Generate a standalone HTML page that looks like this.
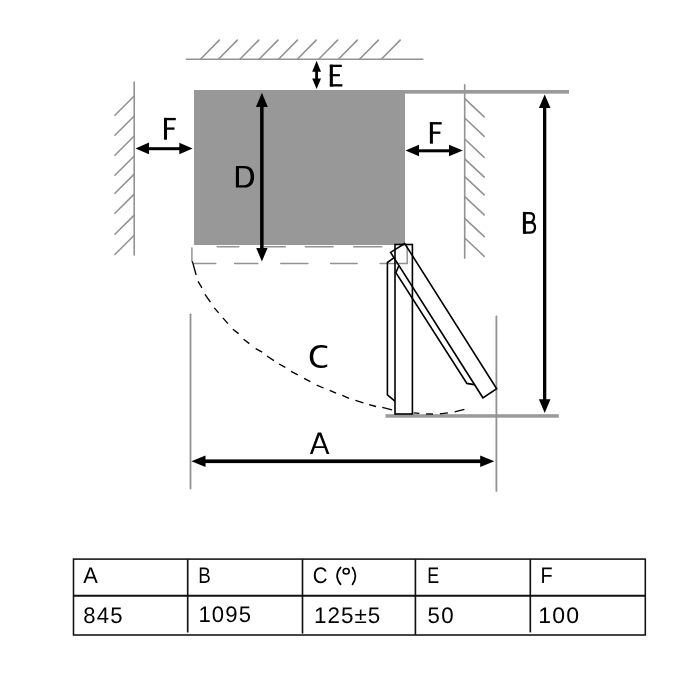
<!DOCTYPE html>
<html><head><meta charset="utf-8"><style>
html,body{margin:0;padding:0;background:#fff;}
body{width:700px;height:700px;overflow:hidden;position:relative;}
svg{position:absolute;left:0;top:0;will-change:transform;}
.t{font-family:"Liberation Sans",sans-serif;text-rendering:geometricPrecision;}
</style></head><body>
<svg width="700" height="700" viewBox="0 0 700 700">
<rect width="700" height="700" fill="#fff"/>
<line x1="186.5" y1="59.2" x2="422.8" y2="59.2" stroke="#929292" stroke-width="1.6" stroke-linecap="round"/>
<line x1="200.4" y1="59.2" x2="219.3" y2="40.1" stroke="#929292" stroke-width="1.6" stroke-linecap="round"/>
<line x1="218.4" y1="59.2" x2="237.3" y2="40.1" stroke="#929292" stroke-width="1.6" stroke-linecap="round"/>
<line x1="239.9" y1="59.2" x2="258.8" y2="40.1" stroke="#929292" stroke-width="1.6" stroke-linecap="round"/>
<line x1="259.1" y1="59.2" x2="278.0" y2="40.1" stroke="#929292" stroke-width="1.6" stroke-linecap="round"/>
<line x1="278.5" y1="59.2" x2="297.4" y2="40.1" stroke="#929292" stroke-width="1.6" stroke-linecap="round"/>
<line x1="297.3" y1="59.2" x2="316.2" y2="40.1" stroke="#929292" stroke-width="1.6" stroke-linecap="round"/>
<line x1="318.7" y1="59.2" x2="337.6" y2="40.1" stroke="#929292" stroke-width="1.6" stroke-linecap="round"/>
<line x1="338.4" y1="59.2" x2="357.3" y2="40.1" stroke="#929292" stroke-width="1.6" stroke-linecap="round"/>
<line x1="359.5" y1="59.2" x2="378.4" y2="40.1" stroke="#929292" stroke-width="1.6" stroke-linecap="round"/>
<line x1="381.3" y1="59.2" x2="400.2" y2="40.1" stroke="#929292" stroke-width="1.6" stroke-linecap="round"/>
<line x1="134.2" y1="82" x2="134.2" y2="255" stroke="#929292" stroke-width="1.6" stroke-linecap="round"/>
<line x1="134.2" y1="96.0" x2="114.9" y2="115.2" stroke="#929292" stroke-width="1.6" stroke-linecap="round"/>
<line x1="134.2" y1="116.0" x2="114.9" y2="135.2" stroke="#929292" stroke-width="1.6" stroke-linecap="round"/>
<line x1="134.2" y1="136.0" x2="114.9" y2="155.2" stroke="#929292" stroke-width="1.6" stroke-linecap="round"/>
<line x1="134.2" y1="156.0" x2="114.9" y2="175.2" stroke="#929292" stroke-width="1.6" stroke-linecap="round"/>
<line x1="134.2" y1="174.1" x2="114.9" y2="193.3" stroke="#929292" stroke-width="1.6" stroke-linecap="round"/>
<line x1="134.2" y1="194.1" x2="114.9" y2="213.3" stroke="#929292" stroke-width="1.6" stroke-linecap="round"/>
<line x1="134.2" y1="215.1" x2="114.9" y2="234.3" stroke="#929292" stroke-width="1.6" stroke-linecap="round"/>
<line x1="134.2" y1="235.3" x2="114.9" y2="254.5" stroke="#929292" stroke-width="1.6" stroke-linecap="round"/>
<line x1="464.7" y1="84.8" x2="464.7" y2="258.1" stroke="#929292" stroke-width="1.6" stroke-linecap="round"/>
<line x1="464.7" y1="98.6" x2="484.2" y2="116.9" stroke="#929292" stroke-width="1.6" stroke-linecap="round"/>
<line x1="464.7" y1="118" x2="484.2" y2="136.3" stroke="#929292" stroke-width="1.6" stroke-linecap="round"/>
<line x1="464.7" y1="139" x2="484.2" y2="157.3" stroke="#929292" stroke-width="1.6" stroke-linecap="round"/>
<line x1="464.7" y1="158.8" x2="484.2" y2="177.1" stroke="#929292" stroke-width="1.6" stroke-linecap="round"/>
<line x1="464.7" y1="176.6" x2="484.2" y2="194.9" stroke="#929292" stroke-width="1.6" stroke-linecap="round"/>
<line x1="464.7" y1="196.6" x2="484.2" y2="214.9" stroke="#929292" stroke-width="1.6" stroke-linecap="round"/>
<line x1="464.7" y1="218.4" x2="484.2" y2="236.7" stroke="#929292" stroke-width="1.6" stroke-linecap="round"/>
<line x1="464.7" y1="238" x2="484.2" y2="256.3" stroke="#929292" stroke-width="1.6" stroke-linecap="round"/>
<rect x="405" y="90" width="164" height="3.7" fill="#9a9a9a"/>
<rect x="385.5" y="414.2" width="173.3" height="3.5" fill="#9a9a9a"/>
<rect x="194" y="90" width="211" height="155" fill="#989898"/>
<line x1="190.5" y1="314.3" x2="190.5" y2="488.6" stroke="#929292" stroke-width="1.8" stroke-linecap="round"/>
<line x1="496.4" y1="316.5" x2="496.4" y2="490.9" stroke="#929292" stroke-width="1.8" stroke-linecap="round"/>
<line x1="217.2" y1="246.8" x2="238.8" y2="246.8" stroke="#929292" stroke-width="1.5" stroke-linecap="round"/>
<line x1="263.9" y1="246.8" x2="285.3" y2="246.8" stroke="#929292" stroke-width="1.5" stroke-linecap="round"/>
<line x1="305.3" y1="246.8" x2="333.1" y2="246.8" stroke="#929292" stroke-width="1.5" stroke-linecap="round"/>
<line x1="353.7" y1="246.8" x2="381.9" y2="246.8" stroke="#929292" stroke-width="1.5" stroke-linecap="round"/>
<line x1="194.3" y1="263.6" x2="215.7" y2="263.6" stroke="#929292" stroke-width="1.5" stroke-linecap="round"/>
<line x1="234.6" y1="263.6" x2="257.7" y2="263.6" stroke="#929292" stroke-width="1.5" stroke-linecap="round"/>
<line x1="280.8" y1="263.6" x2="307.8" y2="263.6" stroke="#929292" stroke-width="1.5" stroke-linecap="round"/>
<line x1="330.6" y1="263.6" x2="357.1" y2="263.6" stroke="#929292" stroke-width="1.5" stroke-linecap="round"/>
<line x1="380.1" y1="263.6" x2="407.2" y2="263.6" stroke="#929292" stroke-width="1.5" stroke-linecap="round"/>
<line x1="191.9" y1="248" x2="191.9" y2="261.4" stroke="#929292" stroke-width="1.5" stroke-linecap="round"/>
<line x1="407.2" y1="246.8" x2="407.2" y2="263.6" stroke="#929292" stroke-width="1.5" stroke-linecap="round"/>
<line x1="192.4" y1="261.4" x2="196.1" y2="275" stroke="#000" stroke-width="1.35"/>
<line x1="198.1" y1="281.4" x2="201.9" y2="287.9" stroke="#000" stroke-width="1.35"/>
<line x1="205" y1="294.3" x2="210.4" y2="302.1" stroke="#000" stroke-width="1.35"/>
<line x1="214.3" y1="307.9" x2="218.6" y2="312.9" stroke="#000" stroke-width="1.35"/>
<line x1="222.9" y1="317.9" x2="227.9" y2="323.6" stroke="#000" stroke-width="1.35"/>
<line x1="232.9" y1="329.3" x2="238.6" y2="333.6" stroke="#000" stroke-width="1.35"/>
<line x1="243.6" y1="339.3" x2="249.3" y2="343.6" stroke="#000" stroke-width="1.35"/>
<line x1="255.7" y1="348.6" x2="262.1" y2="352.1" stroke="#000" stroke-width="1.35"/>
<line x1="267" y1="356" x2="273.9" y2="360.6" stroke="#000" stroke-width="1.35"/>
<line x1="279" y1="364" x2="285.3" y2="367.4" stroke="#000" stroke-width="1.35"/>
<line x1="291" y1="371.4" x2="297.9" y2="374.9" stroke="#000" stroke-width="1.35"/>
<line x1="304.1" y1="378.3" x2="310.4" y2="381.7" stroke="#000" stroke-width="1.35"/>
<line x1="316.7" y1="385.1" x2="323.6" y2="388" stroke="#000" stroke-width="1.35"/>
<line x1="329.7" y1="390.3" x2="336" y2="393.1" stroke="#000" stroke-width="1.35"/>
<line x1="342.3" y1="395.4" x2="349.1" y2="398.3" stroke="#000" stroke-width="1.35"/>
<line x1="355.4" y1="400.3" x2="363.4" y2="402.9" stroke="#000" stroke-width="1.35"/>
<line x1="369.1" y1="404.6" x2="376" y2="406.5" stroke="#000" stroke-width="1.35"/>
<line x1="382.3" y1="407.4" x2="392" y2="409.9" stroke="#000" stroke-width="1.35"/>
<line x1="413.6" y1="412.9" x2="419.3" y2="413.4" stroke="#000" stroke-width="1.35"/>
<line x1="426.1" y1="414" x2="433" y2="414" stroke="#000" stroke-width="1.35"/>
<line x1="439.9" y1="413.8" x2="447.9" y2="412.9" stroke="#000" stroke-width="1.35"/>
<line x1="454.7" y1="411.9" x2="464.4" y2="409.4" stroke="#000" stroke-width="1.35"/>
<!-- door closed -->
<rect x="395" y="244.5" width="17.4" height="169.5" fill="none" stroke="#000" stroke-width="1.6"/>
<!-- thin strip closed -->
<polyline points="394.1,257.6 387.4,262.5 387.4,394.9 394.9,401.1" fill="none" stroke="#000" stroke-width="1.6"/>
<!-- rotated door -->
<polygon points="404.7,243.5 390.6,252.4 482.9,397.8 496.7,388.7" fill="none" stroke="#000" stroke-width="1.6" stroke-linejoin="miter"/>
<!-- rotated strip -->
<polyline points="398.6,266.2 395.9,272.7 466.9,383.4 473.9,384.6" fill="none" stroke="#000" stroke-width="1.6"/>
<!-- arrows -->
<g fill="#000" stroke="none">
<!-- E -->
<rect x="315.2" y="70" width="2.8" height="10"/>
<polygon points="316.6,60.7 321,71.8 312.2,71.8"/>
<polygon points="316.6,88.9 321,78.6 312.2,78.6"/>
<!-- D -->
<rect x="260.1" y="105" width="3.5" height="145"/>
<polygon points="261.9,92.7 267.8,106.9 255.9,106.9"/>
<polygon points="261.9,261.4 267.6,247.9 256.2,247.9"/>
<!-- F left -->
<rect x="147" y="147.2" width="35" height="3"/>
<polygon points="135.5,148.5 149,142.5 149,154.2"/>
<polygon points="192.6,148.5 179.3,142.7 179.3,154.3"/>
<!-- F right -->
<rect x="417" y="149.3" width="35" height="3"/>
<polygon points="405.5,150.6 419,144.8 419,156.3"/>
<polygon points="462.8,150.6 449,144.8 449,156.3"/>
<!-- B -->
<rect x="543" y="106" width="3.3" height="295"/>
<polygon points="544.7,94.4 550.5,108 538.9,108"/>
<polygon points="544.7,413 550.5,399.3 538.9,399.3"/>
<!-- A -->
<rect x="203" y="459.4" width="280" height="3.7"/>
<polygon points="191.4,461.2 205.5,455.5 205.5,467"/>
<polygon points="494.3,461.2 480.2,455.5 480.2,467"/>
</g>

<g fill="#000" stroke="none">
<!-- F left -->
<rect x="164" y="117.9" width="3" height="21.8"/>
<rect x="164" y="117.9" width="11.8" height="2.35"/>
<rect x="164" y="127.45" width="10.5" height="2.3"/>
<!-- F right -->
<rect x="429.9" y="122.1" width="3" height="21.6"/>
<rect x="429.9" y="122.1" width="11.8" height="2.35"/>
<rect x="429.9" y="131.55" width="10.5" height="2.3"/>
<!-- E -->
<rect x="329.8" y="64.7" width="3.05" height="21.8"/>
<rect x="329.8" y="64.7" width="12" height="2.3"/>
<rect x="329.8" y="74.1" width="10.1" height="2.2"/>
<rect x="329.8" y="84.2" width="12.6" height="2.3"/>
<!-- D -->
<path fill-rule="evenodd" d="M235.9,165.9 H244.4 C251.2,165.9 254.1,170.6 254.1,176.75 C254.1,183 251.2,187.6 244.4,187.6 H235.9 Z M239,168.3 H243.8 C248.6,168.3 250.6,171.8 250.6,176.75 C250.6,181.7 248.6,185.2 243.8,185.2 H239 Z"/>
<!-- B -->
<rect x="522.9" y="211.9" width="3" height="21.9"/>
<!-- A -->
<path fill-rule="evenodd" d="M317.8,432.5 L321.2,432.5 L329.4,453.9 L326.7,453.9 L324.48,448.1 L314.74,448.1 L312.6,453.9 L309.9,453.9 Z M319.5,435.15 L315.44,446.2 L323.75,446.2 Z"/>
<!-- C -->
<path d="M327.25,346 C325,345.3 323,345 321,345 C314,345 309.75,349.5 309.75,356.75 C309.75,364 314,368 321,368 C323.2,368 325.3,367.5 327.25,366.75 L327.25,364.25 C325.5,365 323.3,365.5 321.2,365.5 C316.5,365.5 313.25,362.3 313.25,356.75 C313.25,351 316.5,347.5 321.2,347.5 C323.3,347.5 325.5,347.8 327.25,348.25 Z"/>
</g>
<g fill="none" stroke="#000">
<path d="M524,213.05 H529.3 C532.6,213.05 534,214.8 534,217.2 C534,220 532,222.45 528.8,222.45 H524" stroke-width="2.3"/>
<path d="M524,222.45 H529.8 C533.5,222.45 535,224.8 535,227.4 C535,230.5 533,232.65 529.5,232.65 H524" stroke-width="2.3"/>
</g>

<!-- table -->
<g fill="none" stroke="#111">
<rect x="73.5" y="559.1" width="571.8" height="75.9" stroke-width="1.55"/>
<line x1="73.5" y1="595.8" x2="645.3" y2="595.8" stroke-width="2.1"/>
<line x1="187.7" y1="559.2" x2="187.7" y2="632.5" stroke-width="1.65"/>
<line x1="302.5" y1="559.2" x2="302.5" y2="633.6" stroke-width="1.65"/>
<line x1="415.4" y1="559.2" x2="415.4" y2="634.9" stroke-width="1.65"/>
<line x1="530.3" y1="559.2" x2="530.3" y2="632.4" stroke-width="1.65"/>
</g>
<g class="t" fill="#000"><text transform="translate(83.36,583.20) scale(0.972,1)" font-size="22.5">A</text><text transform="translate(198.24,583.20) scale(0.833,1)" font-size="22.5">B</text><text transform="translate(312.67,582.85) scale(0.907,1)" font-size="22.5">C</text><text transform="translate(427.21,583.20) scale(0.792,1)" font-size="22.5">E</text><text transform="translate(540.56,583.20) scale(0.882,1)" font-size="22.5">F</text><text transform="translate(83.22,623.05) scale(0.982,1)" font-size="22.5" letter-spacing="1.2">845</text><text transform="translate(198.38,622.35) scale(0.982,1)" font-size="22.5" letter-spacing="1.2">1095</text><text transform="translate(313.95,622.85) scale(0.998,1)" font-size="22.5" letter-spacing="1.0">125±5</text><text transform="translate(427.61,622.85) scale(0.990,1)" font-size="22.5" letter-spacing="1.2">50</text><text transform="translate(538.21,622.55) scale(1.023,1)" font-size="22.5" letter-spacing="1.2">100</text></g><g fill="none" stroke="#000" stroke-width="1.7"><path d="M341,566.9 Q333.2,575.9 341,584.9"/><path d="M352.2,566.9 Q358.6,575.9 352.2,584.9"/><ellipse cx="346.2" cy="571.2" rx="3.0" ry="2.75" stroke-width="1.6"/></g>
</svg>
</body></html>
